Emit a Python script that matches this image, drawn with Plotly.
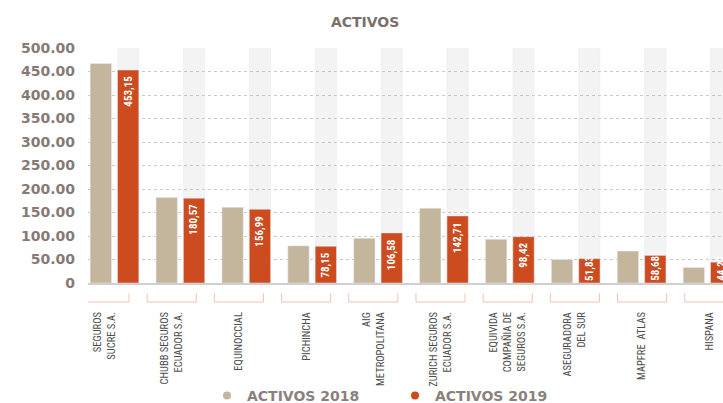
import plotly.graph_objects as go

categories = [
    "SEGUROS<br>SUCRE S.A.",
    "CHUBB SEGUROS<br>ECUADOR S.A.",
    "EQUINOCCIAL",
    "PICHINCHA",
    "AIG<br>METROPOLITANA",
    "ZURICH SEGUROS<br>ECUADOR S.A.",
    "EQUIVIDA<br>COMPAÑIA DE<br>SEGUROS S.A.",
    "ASEGURADORA<br>DEL SUR",
    "MAPFRE  ATLAS",
    "HISPANA",
]
activos_2018 = [467, 182, 161, 79, 95, 159, 93, 50, 68, 33]
activos_2019 = [453.15, 180.57, 156.99, 78.15, 106.58, 142.71, 98.42, 51.83, 58.68, 44.27]
labels_2019 = ["453,15", "180,57", "156,99", "78,15", "106,58", "142,71", "98,42", "51,83", "58,68", "44,27"]
y_tickvals = [0, 50, 100, 150, 200, 250, 300, 350, 400, 450, 500]
y_ticktext = ["0", "50.00", "100.00", "150.00", "200.00", "250.00", "300.00",
              "350.00", "400.00", "450.00", "500.00"]
stripe_top = [500] * len(categories)

C2018 = "#c3b69c"
C2019 = "#cc4b1f"
GRAYTXT = "#857a76"
WIDE = "DejaVu Sans"
NARROW = "Liberation Sans Narrow, Roboto Condensed, Roboto, sans-serif"

BARGAP = 0.17
idx = list(range(len(categories)))
slot = (1 - BARGAP) / 2
off2019 = slot / 2

fig = go.Figure()
fig.add_trace(go.Bar(x=idx, y=activos_2018, marker_color=C2018, offsetgroup="a",
                     showlegend=False, hoverinfo="skip"))
fig.add_trace(go.Bar(x=idx, y=stripe_top, marker_color="rgba(190,190,190,0.18)",
                     offsetgroup="b", showlegend=False, hoverinfo="skip"))
fig.add_trace(go.Bar(x=idx, y=activos_2019, marker_color=C2019, offsetgroup="b",
                     showlegend=False, hoverinfo="skip"))
# invisible trace for label axis
fig.add_trace(go.Scatter(x=idx, y=[0] * len(idx), xaxis="x2", mode="markers",
                         marker=dict(opacity=0), showlegend=False, hoverinfo="skip"))
# legend entries
fig.add_trace(go.Scatter(x=[None], y=[None], mode="markers", name="ACTIVOS 2018",
                         marker=dict(color=C2018, size=8, symbol="circle")))
fig.add_trace(go.Scatter(x=[None], y=[None], mode="markers", name="ACTIVOS 2019",
                         marker=dict(color=C2019, size=8, symbol="circle")))

# value labels inside the 2019 bars (top-anchored, or from the base when the bar is short)
annotations = []
for i, v, t in zip(idx, activos_2019, labels_2019):
    tall = v >= 70
    annotations.append(dict(
        x=i + off2019, xref="x", y=v if tall else 0, yref="y",
        text=t, textangle=-90, showarrow=False,
        xanchor="center", yanchor="top" if tall else "bottom",
        yshift=-4 if tall else 0,
        font=dict(family=NARROW, size=11, color="white", weight="bold"),
    ))

# bracket decorations under each label
shapes = []
for i in idx:
    x0, x1 = i - 0.365, i + 0.365
    shapes.append(dict(type="path", xref="x2", yref="paper",
                       path=f"M {x0},-0.043 L {x0},-0.081 L {x1},-0.081 L {x1},-0.043",
                       line=dict(color="#f0c3b4", width=1)))

fig.update_layout(
    width=723, height=403,
    margin=dict(l=88, r=0, t=48, b=120, autoexpand=False),
    paper_bgcolor="white", plot_bgcolor="white",
    barmode="group", bargap=BARGAP, bargroupgap=0.22,
    title=dict(text="ACTIVOS", x=0.505, xref="container", xanchor="center",
               y=1 - 22 / 403, yref="container", yanchor="middle",
               font=dict(family=WIDE, size=14, color="#7a706b", weight="bold")),
    xaxis=dict(type="linear", range=[-0.402, 9.235], showticklabels=False, showgrid=False,
               zeroline=False, showline=True, linecolor="#cfcfcf", linewidth=2, ticks="",
               automargin=False),
    xaxis2=dict(type="linear", overlaying="x", anchor="y", side="bottom",
                range=[-0.2455, 9.204], tickmode="array", tickvals=idx, ticktext=categories,
                tickangle=-90, ticks="", showgrid=False, zeroline=False, showline=False,
                ticklabelstandoff=26, automargin=False,
                tickfont=dict(family=NARROW, size=10.5, color="#4d4d4d")),
    yaxis=dict(range=[0, 500], tickmode="array", tickvals=y_tickvals, ticktext=y_ticktext,
               showgrid=True, gridcolor="#c9c9c9", griddash="dot", gridwidth=1,
               zeroline=False, showline=False, ticks="", ticklabelstandoff=12,
               automargin=False,
               tickfont=dict(family=WIDE, size=14, color=GRAYTXT, weight="bold")),
    legend=dict(orientation="h", xref="container", yref="container",
                x=207 / 723, xanchor="left", y=1 - 396 / 403, yanchor="middle",
                bgcolor="rgba(0,0,0,0)",
                font=dict(family=WIDE, size=14, color="#8a817d", weight="bold"),
                entrywidth=143, itemwidth=30),
    annotations=annotations,
    shapes=shapes,
)

fig.write_html("out.html", post_script="document.body.style.margin='0px';",
               config={"displayModeBar": False})
